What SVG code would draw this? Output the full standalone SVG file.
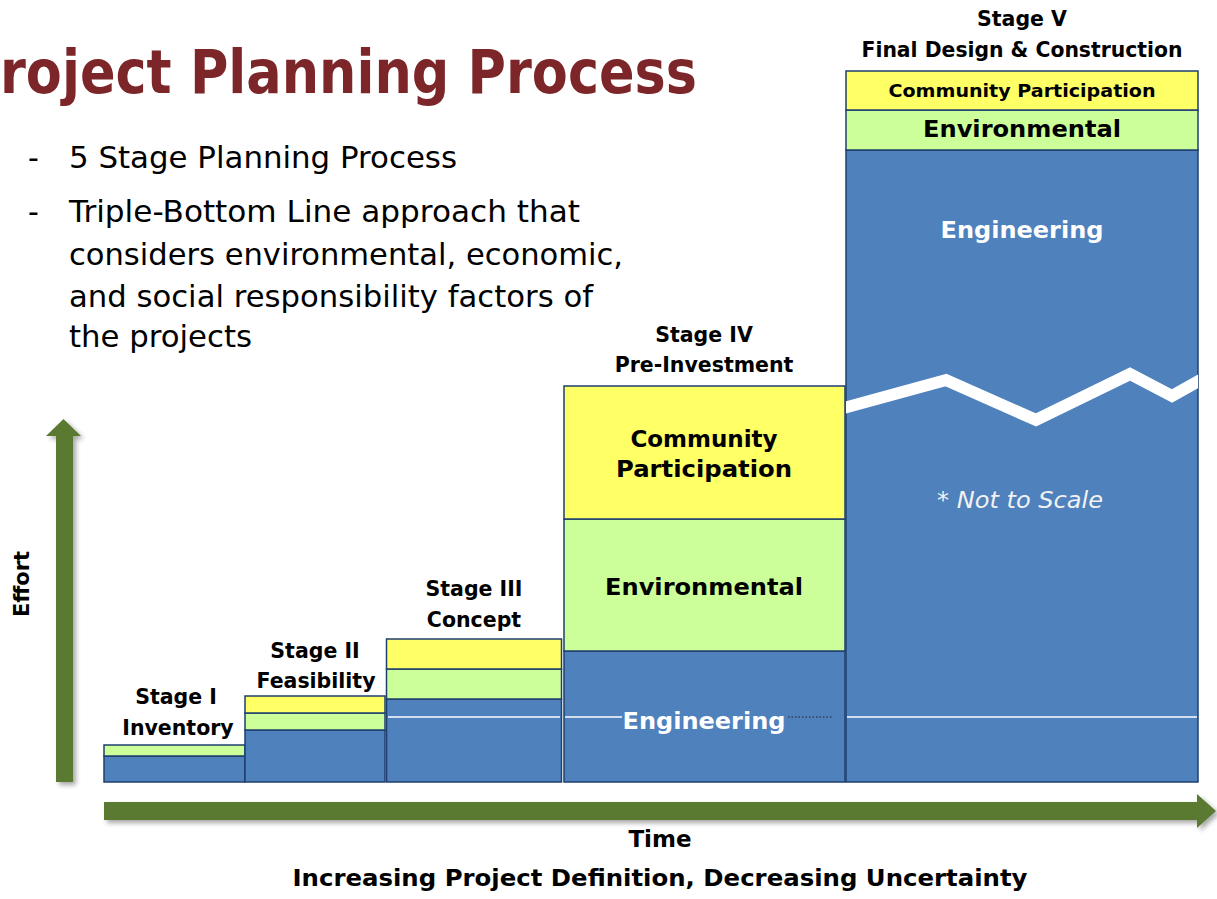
<svg xmlns="http://www.w3.org/2000/svg" width="1217" height="899" viewBox="0 0 1217 899">
  <defs>
    <filter id="shadow" x="-20%" y="-20%" width="140%" height="160%">
      <feGaussianBlur in="SourceAlpha" stdDeviation="2.5"/>
      <feOffset dx="3" dy="3" result="b"/>
      <feComponentTransfer><feFuncA type="linear" slope="0.35"/></feComponentTransfer>
      <feMerge><feMergeNode/><feMergeNode in="SourceGraphic"/></feMerge>
    </filter>
    <clipPath id="stage5clip"><rect x="846" y="150" width="352" height="632"/></clipPath>
  </defs>
  <style>
    .eng { fill: #4F81BD; stroke: #1F3F6E; stroke-width: 1.5; }
    .env { fill: #CCFF99; stroke: #1F3F6E; stroke-width: 1.5; }
    .com { fill: #FFFF66; stroke: #1F3F6E; stroke-width: 1.5; }
    .axis { fill: #5A7A31; }
    .grid { stroke: #FFFFFF; stroke-width: 1.6; }
    .lbl { font-family: "DejaVu Sans", Verdana, sans-serif; font-weight: bold; fill: #000; text-anchor: middle; }
    .stg { font-size: 20.5px; }
    .box { font-size: 23px; }
    .wht { fill: #FFFFFF; }
    .body { font-family: "DejaVu Sans", Verdana, sans-serif; font-size: 30px; fill: #000; }
  </style>

  <rect width="1217" height="899" fill="#FFFFFF"/>

  <!-- heading and bullet list -->
  <text x="0" y="93" font-family="'DejaVu Sans', Verdana, sans-serif" font-weight="bold" font-size="60" fill="#7C2629" textLength="697" lengthAdjust="spacingAndGlyphs">roject Planning Process</text>
  <g class="body">
    <text x="28" y="168">-</text>
    <text x="69" y="168" textLength="388" lengthAdjust="spacingAndGlyphs">5 Stage Planning Process</text>
    <text x="28" y="222">-</text>
    <text x="69" y="222" textLength="511" lengthAdjust="spacingAndGlyphs">Triple-Bottom Line approach that</text>
    <text x="69" y="265" textLength="554" lengthAdjust="spacingAndGlyphs">considers environmental, economic,</text>
    <text x="69" y="307" textLength="524" lengthAdjust="spacingAndGlyphs">and social responsibility factors of</text>
    <text x="69" y="347" textLength="183" lengthAdjust="spacingAndGlyphs">the projects</text>
  </g>

  <!-- axes -->
  <g id="connectors" filter="url(#shadow)">
    <path class="axis" d="M56,782 L56,436 L46,436 L63.5,419 L81,436 L73,436 L73,782 Z"/>
    <path class="axis" d="M104,802 L1197,802 L1197,794 L1216,811 L1197,828 L1197,820 L104,820 Z"/>
  </g>
  <text class="lbl" x="0" y="0" font-size="21" transform="translate(29,584) rotate(-90)">Effort</text>
  <text class="lbl" x="660" y="847" font-size="23">Time</text>
  <text class="lbl" x="660" y="886" font-size="23" textLength="735" lengthAdjust="spacingAndGlyphs">Increasing Project Definition, Decreasing Uncertainty</text>

  <!-- Stage I -->
  <g id="stage1">
    <rect class="eng" x="104" y="756" width="141" height="26"/>
    <rect class="env" x="104" y="745" width="141" height="11"/>
    <text class="lbl stg" x="176" y="704">Stage I</text>
    <text class="lbl stg" x="178" y="735">Inventory</text>
  </g>

  <!-- Stage II -->
  <g id="stage2">
    <rect class="eng" x="245" y="730" width="140" height="52"/>
    <rect class="env" x="245" y="713" width="140" height="17"/>
    <rect class="com" x="245" y="696" width="140" height="17"/>
    <text class="lbl stg" x="315" y="658">Stage II</text>
    <text class="lbl stg" x="316" y="688">Feasibility</text>
  </g>

  <!-- Stage III -->
  <g id="stage3">
    <rect class="eng" x="386.5" y="699" width="175" height="83"/>
    <rect class="env" x="386.5" y="669" width="175" height="30"/>
    <rect class="com" x="386.5" y="639" width="175" height="30"/>
    <line class="grid" x1="388" y1="717" x2="560" y2="717"/>
    <text class="lbl stg" x="474" y="596">Stage III</text>
    <text class="lbl stg" x="474" y="627">Concept</text>
  </g>

  <!-- Stage IV -->
  <g id="stage4">
    <rect class="eng" x="564" y="651" width="281" height="131"/>
    <rect class="env" x="564" y="519" width="281" height="132"/>
    <rect class="com" x="564" y="386" width="281" height="133"/>
    <line class="grid" x1="565" y1="717" x2="622" y2="717"/>
    <line x1="788" y1="717" x2="832" y2="717" stroke="#222" stroke-width="1.2" stroke-dasharray="1.5 2"/>
    <text class="lbl stg" x="704" y="342">Stage IV</text>
    <text class="lbl stg" x="704" y="372">Pre-Investment</text>
    <text class="lbl" x="704" y="447" font-size="23">Community</text>
    <text class="lbl" x="704" y="477" font-size="23" textLength="176" lengthAdjust="spacingAndGlyphs">Participation</text>
    <text class="lbl box" x="704" y="595" textLength="198" lengthAdjust="spacingAndGlyphs">Environmental</text>
    <text class="lbl box wht" x="704" y="729" textLength="163" lengthAdjust="spacingAndGlyphs">Engineering</text>
  </g>

  <!-- Stage V -->
  <g id="stage5">
    <rect class="eng" x="846" y="150" width="352" height="632"/>
    <rect class="env" x="846" y="110" width="352" height="40"/>
    <rect class="com" x="846" y="71" width="352" height="39"/>
    <line class="grid" x1="847" y1="717" x2="1197" y2="717"/>
    <polyline clip-path="url(#stage5clip)" points="840,409 946,380 1036,420 1130,374 1172,396 1204,378" fill="none" stroke="#FFFFFF" stroke-width="12" stroke-linejoin="miter"/>
    <text class="lbl stg" x="1022" y="26">Stage V</text>
    <text class="lbl stg" x="1022" y="57" textLength="321" lengthAdjust="spacingAndGlyphs">Final Design &amp; Construction</text>
    <text class="lbl" x="1022" y="97" font-size="18" textLength="267" lengthAdjust="spacingAndGlyphs">Community Participation</text>
    <text class="lbl box" x="1022" y="137" textLength="198" lengthAdjust="spacingAndGlyphs">Environmental</text>
    <text class="lbl box wht" x="1022" y="238" textLength="163" lengthAdjust="spacingAndGlyphs">Engineering</text>
    <text x="1020" y="508" font-family="'DejaVu Sans', Verdana, sans-serif" font-style="italic" font-size="23" fill="#F2F2F2" text-anchor="middle" textLength="166" lengthAdjust="spacingAndGlyphs">* Not to Scale</text>
  </g>
</svg>
